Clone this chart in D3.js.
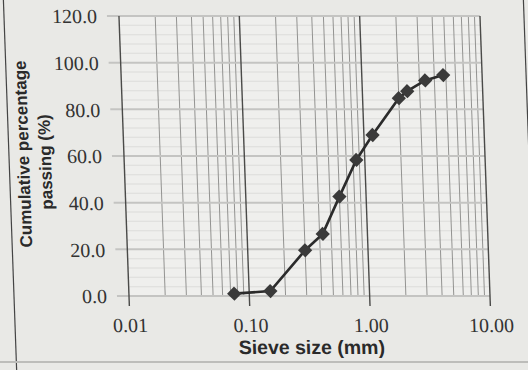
<!DOCTYPE html>
<html><head><meta charset="utf-8">
<script src="https://cdn.jsdelivr.net/npm/d3@7/dist/d3.min.js"></script>
<style>
html,body{margin:0;padding:0;background:#e9e9e6;}
svg{display:block;}
</style></head>
<body>
<svg id="c" width="528" height="370"></svg>
<script>
// Data
const sieveSizes = [0.075, 0.15, 0.3, 0.425, 0.6, 0.85, 1.18, 2.0, 2.36, 3.35, 4.75];
const passing    = [1.0, 2.1, 19.6, 26.6, 42.6, 58.3, 69.0, 84.8, 87.8, 92.4, 94.7];
const xTickValues = [0.01, 0.1, 1, 10];
const xTickLabels = ["0.01", "0.10", "1.00", "10.00"];
const yTickValues = [0, 20, 40, 60, 80, 100, 120];
const yTickLabels = ["0.0", "20.0", "40.0", "60.0", "80.0", "100.0", "120.0"];
const xTitle = "Sieve size (mm)";
const yTitle1 = "Cumulative percentage";
const yTitle2 = "passing (%)";

const svg = d3.select("#c");
const k = 10.6/296; // photo skew
const g = svg.append("g")
  .attr("transform", `translate(0,296) skewX(${Math.atan(k)*180/Math.PI}) translate(0,-296)`);

const x = d3.scaleLog().domain([0.01, 10]).range([129, 490]);
const y = d3.scaleLinear().domain([0, 120]).range([296, 16]);

// outer frame
g.append("line").attr("x1",14).attr("x2",14).attr("y1",-20).attr("y2",380).attr("stroke","#444").attr("stroke-width",1.2);
g.append("line").attr("x1",-20).attr("x2",560).attr("y1",362).attr("y2",362).attr("stroke","#bdbdba").attr("stroke-width",2);
g.append("line").attr("x1",534).attr("x2",534).attr("y1",-20).attr("y2",380).attr("stroke","#444").attr("stroke-width",1.2);

// plot background
g.append("rect").attr("x",x(0.01)).attr("y",y(120)).attr("width",x(10)-x(0.01)).attr("height",y(0)-y(120)).attr("fill","#efefed");

// minor horizontal grid
const minorY = d3.range(0, 121, 4).filter(v => v % 20 !== 0);
g.append("g").selectAll("line").data(minorY).join("line")
  .attr("x1", x(0.01)).attr("x2", x(10)).attr("y1", d=>y(d)).attr("y2", d=>y(d))
  .attr("stroke","#dcdcda").attr("stroke-width",1);

// minor vertical grid
const minorX = [];
[0.01,0.1,1].forEach(b => { for (let i=2;i<=9;i++) minorX.push(b*i); });
g.append("g").selectAll("line").data(minorX).join("line")
  .attr("x1", d=>x(d)).attr("x2", d=>x(d)).attr("y1", y(120)).attr("y2", y(0))
  .attr("stroke","#939391").attr("stroke-width",1);

// major horizontal grid + ticks
g.append("g").selectAll("line").data(yTickValues).join("line")
  .attr("x1", x(0.01)-12).attr("x2", x(10)).attr("y1", d=>y(d)).attr("y2", d=>y(d))
  .attr("stroke","#c4c4c2").attr("stroke-width",2);

// major vertical grid + ticks
g.append("g").selectAll("line").data(xTickValues).join("line")
  .attr("x1", d=>x(d)).attr("x2", d=>x(d)).attr("y1", y(120)).attr("y2", y(0)+10)
  .attr("stroke","#4a4a48").attr("stroke-width",1.4);

// axes via d3
const yAxis = d3.axisLeft(y).tickValues(yTickValues).tickFormat((d,i)=>yTickLabels[i]).tickSize(0).tickPadding(0);
const ya = g.append("g").attr("transform","translate(107,0)").call(yAxis);
ya.select(".domain").remove();
ya.selectAll("text").attr("font-family","'Liberation Serif','DejaVu Serif',serif").attr("font-size",20).attr("fill","#333").attr("dy","0.34em");

const xAxis = d3.axisBottom(x).tickValues(xTickValues).tickFormat((d,i)=>xTickLabels[i]).tickSize(0).tickPadding(0);
const xa = g.append("g").attr("transform","translate(0,318)").call(xAxis);
xa.select(".domain").remove();
xa.selectAll("text").attr("font-family","'Liberation Serif','DejaVu Serif',serif").attr("font-size",20).attr("fill","#333").attr("dy","0.71em");

// titles
g.append("text").attr("x",310).attr("y",354).attr("text-anchor","middle")
  .attr("font-family","'Liberation Sans',Arial,sans-serif").attr("font-weight","bold").attr("font-size",19.5).attr("fill","#2a2a2a").text(xTitle);
g.append("text").attr("transform","translate(34,154) rotate(-90)").attr("text-anchor","middle")
  .attr("font-family","'Liberation Sans',Arial,sans-serif").attr("font-weight","bold").attr("font-size",17).attr("fill","#2a2a2a").text(yTitle1);
g.append("text").attr("transform","translate(56,162) rotate(-90)").attr("text-anchor","middle")
  .attr("font-family","'Liberation Sans',Arial,sans-serif").attr("font-weight","bold").attr("font-size",17).attr("fill","#2a2a2a").text(yTitle2);

// series
const pts = sieveSizes.map((s,i)=>[s, passing[i]]);
g.append("path").datum(pts)
  .attr("d", d3.line().x(d=>x(d[0])).y(d=>y(d[1])))
  .attr("fill","none").attr("stroke","#2b2b2b").attr("stroke-width",2.6);
g.append("g").selectAll("path").data(pts).join("path")
  .attr("d", d3.symbol().type(d3.symbolDiamond2).size(130))
  .attr("transform", d=>`translate(${x(d[0])},${y(d[1])})`)
  .attr("fill","#3a3a3a");
</script>
</body></html>
